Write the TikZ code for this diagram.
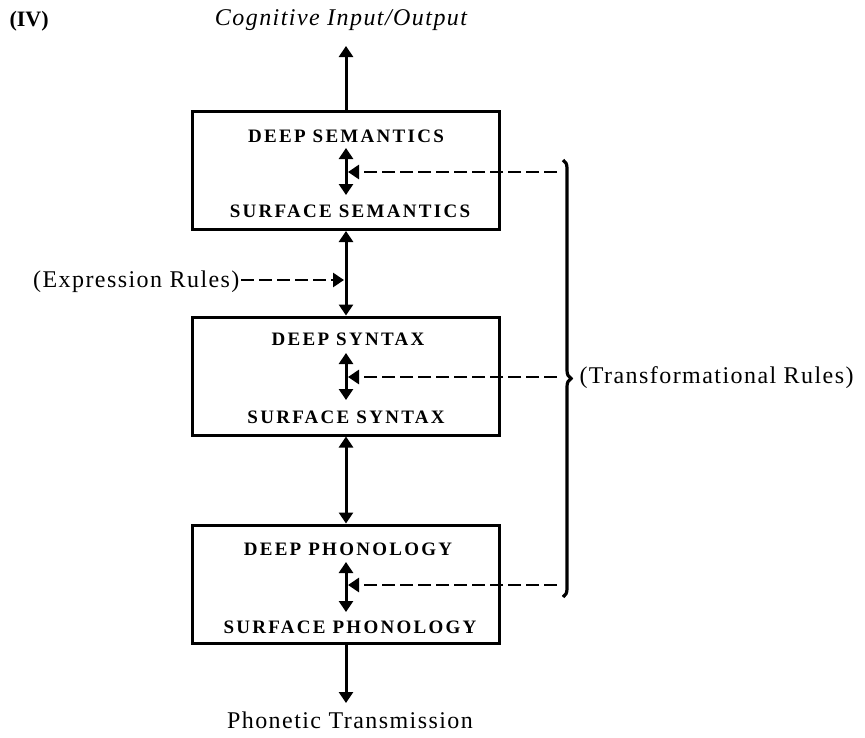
\documentclass[tikz,border=0pt]{standalone}
\usepackage{fontspec}
\setmainfont{Liberation Serif}
\newfontfamily\boxfont[LetterSpace=12]{Liberation Serif}
\newfontfamily\txtfont[LetterSpace=6]{Liberation Serif}
\usetikzlibrary{arrows.meta,decorations.pathreplacing}
\begin{document}
\begin{tikzpicture}[x=1pt,y=-1pt,
  line width=3pt,
  tri/.tip={Triangle[length=11pt,width=14pt]},
  box/.style={draw,line width=3pt,minimum width=307pt,minimum height=118pt,inner sep=0pt},
  lab/.style={font=\boxfont\bfseries\fontsize{19}{19}\selectfont,anchor=base,inner sep=0pt},
  big/.style={font=\txtfont\fontsize{24}{24}\selectfont,inner sep=0pt},
  dsh/.style={line width=2.8pt,dash pattern=on 13pt off 5pt}
]
\useasboundingbox (0,0) rectangle (865,737);
% title
\node[font=\bfseries\fontsize{22}{22}\selectfont,anchor=base west,inner sep=0pt] (iv) at (8,26) {(IV)};
\node[font=\txtfont\itshape\fontsize{24}{24}\selectfont,anchor=base,inner sep=0pt] (cog) at (341,25) {Cognitive Input/Output};
\coordinate (ctip) at (346,46);
% boxes
\node[box] (b1) at (345.5,170.5) {};
\node[box] (b2) at (345.5,376) {};
\node[box] (b3) at (345.5,584) {};
% labels
\node[lab] (d1) at (346,142) {DEEP SEMANTICS};
\node[lab] (s1) at (350,217) {SURFACE SEMANTICS};
\node[lab] (d2) at (348,345) {DEEP SYNTAX};
\node[lab] (s2) at (346,423) {SURFACE SYNTAX};
\node[lab] (d3) at (348,555) {DEEP PHONOLOGY};
\node[lab] (s3) at (350,633) {SURFACE PHONOLOGY};
% inner arrows
\coordinate (a1t) at (346,148); \coordinate (a1b) at (346,195);
\coordinate (a2t) at (346,353); \coordinate (a2b) at (346,400);
\coordinate (a3t) at (346,562); \coordinate (a3b) at (346,612);
\draw[{tri}-{tri}] (a1t) -- (a1b);
\draw[{tri}-{tri}] (a2t) -- (a2b);
\draw[{tri}-{tri}] (a3t) -- (a3b);
% transformational dashed arrows
\coordinate (r1) at (557,172); \coordinate (l1) at (348,172);
\coordinate (r2) at (557,377); \coordinate (l2) at (348,377);
\coordinate (r3) at (557,585); \coordinate (l3) at (348,585);
\draw[dsh,-{tri}] (r1) -- (l1);
\draw[dsh,-{tri}] (r2) -- (l2);
\draw[dsh,-{tri}] (r3) -- (l3);
% vertical connectors
\draw[-{tri}] (b1.north -| ctip) -- (ctip);
\draw[{tri}-{tri}] (b1.south -| ctip) -- (b2.north -| ctip);
\draw[{tri}-{tri}] (b2.south -| ctip) -- (b3.north -| ctip);
\coordinate (ptip) at (346,703);
\draw[-{tri}] (b3.south -| ptip) -- (ptip);
% expression rules
\node[big,anchor=base east] (expr) at (241,287) {(Expression Rules)};
\coordinate (etip) at (344,280);
\draw[dsh,-{tri}] (expr.east |- etip) -- (etip);
% brace
\coordinate (bt) at (563,160); \coordinate (bb) at (563,597);
\draw[line width=3.2pt,decorate,decoration={brace,amplitude=8pt}] (bt) -- (bb);
\node[big,anchor=base west] (trans) at (578,383) {(Transformational Rules)};
% bottom label
\node[big,anchor=base] (phon) at (350,728) {Phonetic Transmission};
\end{tikzpicture}
\end{document}
